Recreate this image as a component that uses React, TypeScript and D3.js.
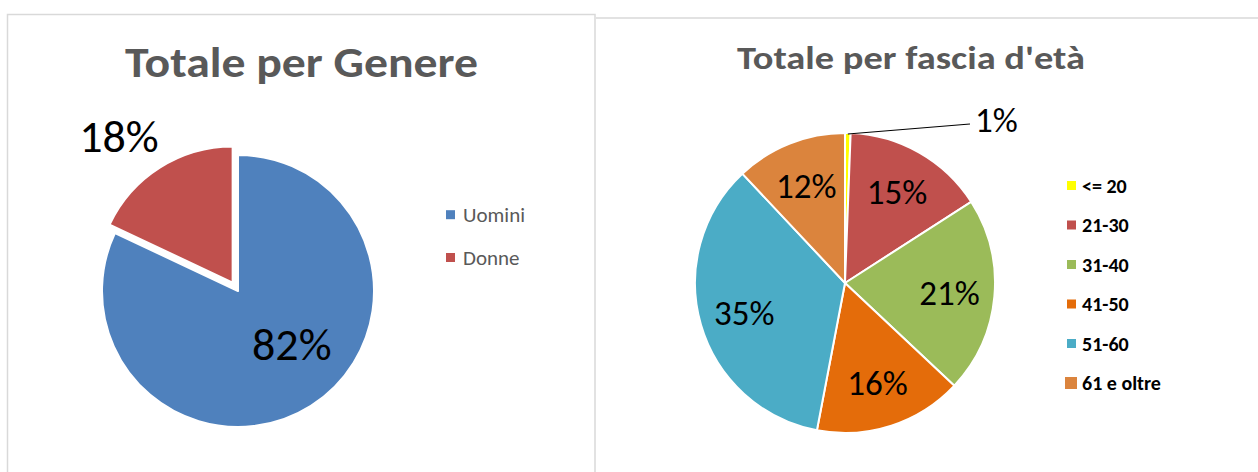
import React from "react";
import * as d3 from "d3";

const genderCategories = ["Uomini", "Donne"];
const genderValues = [82, 18];
const genderColors = ["#4F81BD", "#C0504D"];

const ageCategories = ["<= 20", "21-30", "31-40", "41-50", "51-60", "61 e oltre"];
const ageValues = [0.6, 15.3, 21.1, 16.0, 35.0, 12.0];
const ageColors = ["#FFFF00", "#C0504D", "#9BBB59", "#E46C0A", "#4BACC6", "#DB843D"];

const titleLeft = "Totale per Genere";
const titleRight = "Totale per fascia d'età";

const FONT = "Calibri, Carlito, Lato, sans-serif";

export default function App() {
  const W = 1258, H = 472;

  // Left pie
  const lcx = 238, lcy = 291, lR = 136;
  const pieGen = d3.pie<number>().sort(null).value((d) => d);
  const gArcs = pieGen(genderValues);
  const lArc = d3.arc<d3.PieArcDatum<number>>().innerRadius(0).outerRadius(lR);
  const explode = [0, 10];
  const gTotal = d3.sum(genderValues);
  const gLabelR = [78, 196];
  const gNudge = [[12, -13], [-14, 10]];
  const gFs = 46;

  // Right pie
  const rcx = 845, rcy = 283, rR = 150;
  const aArcs = pieGen(ageValues);
  const rArc = d3.arc<d3.PieArcDatum<number>>().innerRadius(0).outerRadius(rR);
  const aTotal = d3.sum(ageValues);
  const aLabelR = 105;
  const aFs = 35;

  const pt = (a: number, r: number) => [Math.sin(a) * r, -Math.cos(a) * r];

  const legendY = d3.scalePoint<string>().domain(ageCategories).range([185.5, 383]);
  const legendYL = d3.scalePoint<string>().domain(genderCategories).range([214.7, 257.5]);

  const small = aArcs[0];
  const smallMid = (small.startAngle + small.endAngle) / 2;
  const [sx, sy] = pt(smallMid, rR - 1);

  return (
    <svg width={W} height={H} style={{ position: "absolute", left: 0, top: 0, background: "#fff" }}>
      <rect x={0} y={0} width={W} height={H} fill="#fff" />
      {/* panel borders */}
      <rect x={7.5} y={14.5} width={587.5} height={470} fill="none" stroke="#D9D9D9" strokeWidth={1.5} />
      <line x1={596} x2={W} y1={18} y2={18} stroke="#D9D9D9" strokeWidth={1.5} />

      {/* Left title */}
      <text x={301.5} y={76.7} textAnchor="middle" fontFamily={FONT} fontWeight="bold" fontSize={42}
        fill="#595959" textLength={353} lengthAdjust="spacingAndGlyphs">{titleLeft}</text>

      {/* Left pie */}
      <g transform={`translate(${lcx},${lcy})`}>
        {gArcs.map((a, i) => {
          const mid = (a.startAngle + a.endAngle) / 2;
          const [ox, oy] = pt(mid, explode[i]);
          return (
            <path key={i} d={lArc(a) as string} transform={`translate(${ox},${oy})`}
              fill={genderColors[i]} stroke="#fff" strokeWidth={2} strokeLinejoin="round" />
          );
        })}
        {gArcs.map((a, i) => {
          const mid = (a.startAngle + a.endAngle) / 2;
          const [x, y] = pt(mid, gLabelR[i]);
          return (
            <text key={"l" + i} x={x + gNudge[i][0]} y={y + gNudge[i][1] + gFs * 0.36} textAnchor="middle"
              fontFamily={FONT} fontSize={gFs} fill="#000">
              {Math.round((a.value / gTotal) * 100)}%
            </text>
          );
        })}
      </g>

      {/* Left legend */}
      {genderCategories.map((c, i) => (
        <g key={c}>
          <rect x={446} y={(legendYL(c) as number) - 4.5} width={9} height={9} fill={genderColors[i]} />
          <text x={463} y={(legendYL(c) as number) + 7.5} fontFamily={FONT} fontSize={21} fill="#595959">{c}</text>
        </g>
      ))}

      {/* Right title */}
      <text x={911} y={69.3} textAnchor="middle" fontFamily={FONT} fontWeight="bold" fontSize={33}
        fill="#595959" textLength={348} lengthAdjust="spacingAndGlyphs">{titleRight}</text>

      {/* Right pie */}
      <g transform={`translate(${rcx},${rcy})`}>
        {aArcs.map((a, i) => (
          <path key={i} d={rArc(a) as string} fill={ageColors[i]} stroke="#fff" strokeWidth={2} strokeLinejoin="round" />
        ))}
        {aArcs.map((a, i) => {
          if (i === 0) return null;
          const mid = (a.startAngle + a.endAngle) / 2;
          const [x, y] = pt(mid, aLabelR);
          return (
            <text key={"l" + i} x={x} y={y + aFs * 0.36} textAnchor="middle" fontFamily={FONT} fontSize={aFs} fill="#000">
              {Math.round((a.value / aTotal) * 100)}%
            </text>
          );
        })}
        <polyline points={`${sx},${sy} ${125},${-159}`} fill="none" stroke="#000" strokeWidth={1.2} />
        <text x={130} y={-159 + aFs * 0.36 - 5} fontFamily={FONT} fontSize={aFs} fill="#000">
          {Math.round((small.value / aTotal) * 100)}%
        </text>
      </g>

      {/* Right legend */}
      {ageCategories.map((c, i) => {
        const y = legendY(c) as number;
        const s = i === ageCategories.length - 1 ? 12 : 9;
        return (
          <g key={c}>
            <rect x={i === ageCategories.length - 1 ? 1065 : 1067} y={y - s / 2} width={s} height={s} fill={ageColors[i]} />
            <text x={1082} y={y + 7} fontFamily={FONT} fontWeight="bold" fontSize={20} fill="#000">{c}</text>
          </g>
        );
      })}
    </svg>
  );
}
